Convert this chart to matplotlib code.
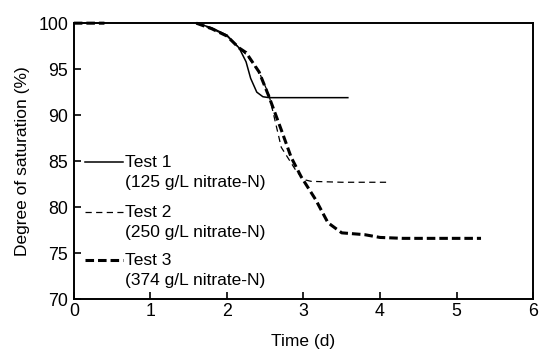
import matplotlib
matplotlib.use("Agg")
import matplotlib.pyplot as plt
import numpy as np

plt.rcParams['font.family'] = ['Liberation Sans', 'DejaVu Sans']

# data (gap = no record between the first points and 1.6 d)
t1 = [0, 0.4, np.nan, 1.6, 1.8, 2.0, 2.16, 2.25, 2.31, 2.39, 2.47, 2.55, 2.7, 3.0, 3.58]
y1 = [100, 100, np.nan, 100, 99.5, 98.7, 97.3, 95.8, 94.0, 92.5, 92.0, 91.9, 91.9, 91.9, 91.9]

t2 = [0, 0.4, np.nan, 1.6, 1.8, 2.0, 2.16, 2.25, 2.42, 2.55, 2.71, 2.9, 3.0, 3.1, 3.5, 4.12]
y2 = [100, 100, np.nan, 100, 99.4, 98.6, 97.3, 96.6, 94.7, 92.2, 86.5, 84.0, 83.0, 82.8, 82.7, 82.7]

t3 = [0, 0.4, np.nan, 1.6, 1.8, 2.0, 2.16, 2.25, 2.42, 2.55, 2.71, 2.84, 2.97, 3.16, 3.32,
      3.5, 3.8, 4.0, 4.3, 4.8, 5.32]
y3 = [100, 100, np.nan, 100, 99.4, 98.6, 97.3, 96.8, 94.7, 92.0, 88.4, 85.4, 83.3, 80.8, 78.3,
      77.2, 77.0, 76.7, 76.6, 76.6, 76.6]

names = ["Test 1", "Test 2", "Test 3"]
concs = ["(125 g/L nitrate-N)", "(250 g/L nitrate-N)", "(374 g/L nitrate-N)"]

# styles
styles = [dict(ls='-', lw=1.1),
          dict(ls=(0, (5, 3.5)), lw=0.9),
          dict(ls=(0, (2.8, 1.3)), lw=2.2)]

fig = plt.figure(figsize=(5.39, 3.51), dpi=100)
ax = fig.add_axes([0.137, 0.148, 0.852, 0.786])

for t, y, st in zip([t1, t2, t3], [y1, y2, y3], styles):
    ax.plot(t, y, color='black', clip_on=False, **st)

ax.set_xlim(0, 6)
ax.set_ylim(70, 100)
ax.set_xticks(range(0, 7))
ax.set_yticks(range(70, 101, 5))
ax.tick_params(direction='in', length=5, width=1.2, labelsize=12.8, pad=4)
ax.tick_params(axis='x', pad=3)
for s in ax.spines.values():
    s.set_linewidth(1.4)

ax.set_xlabel("Time (d)", fontsize=12.5, labelpad=10)
ax.set_ylabel("Degree of saturation (%)", fontsize=12.5, labelpad=6)

# legend: drawn by hand, handle next to first line of label
ly = [0.496, 0.315, 0.141]
for i in range(3):
    ax.plot([0.024, 0.107], [ly[i], ly[i]], color='black', transform=ax.transAxes,
            clip_on=False, **styles[i])
    ax.text(0.111, ly[i], names[i], transform=ax.transAxes, fontsize=12.5,
            va='center', ha='left')
    ax.text(0.111, ly[i] - 0.072, concs[i], transform=ax.transAxes, fontsize=12.5,
            va='center', ha='left')

fig.savefig("out.png", dpi=100)
